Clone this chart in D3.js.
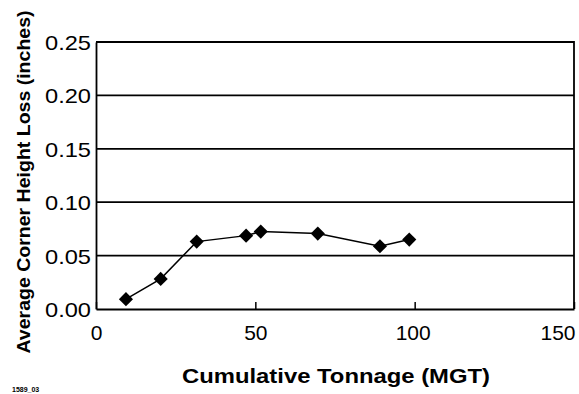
<!DOCTYPE html>
<html>
<head>
<meta charset="utf-8">
<script src="https://cdn.jsdelivr.net/npm/d3@7"></script>
<style>
body { margin: 0; background: #fff; }
svg { display: block; font-family: Arial, "Liberation Sans", sans-serif; }
</style>
</head>
<body>
<svg width="579" height="394"></svg>
<script>
// data
var tonnage = [9.4, 20.3, 31.6, 47.1, 51.7, 69.6, 89.1, 98.3];
var heightLoss = [0.0092, 0.0282, 0.0631, 0.0687, 0.0725, 0.0706, 0.0588, 0.065];
var xTicks = [0, 50, 100, 150];
var yTicks = [0, 0.05, 0.10, 0.15, 0.20, 0.25];

var points = tonnage.map((t, i) => ({x: t, y: heightLoss[i]}));

var graph = d3.select('svg');

//define scale
var xScale = d3.scaleLinear()
	.domain([0, 150])
	.range([96, 574]);

var yScale = d3.scaleLinear()
	.domain([0, 0.25])
	.range([309, 42]);

//gridlines
graph.append('g')
	.selectAll('line')
	.data(yTicks.slice(1))
	.enter().append('line')
	.attr('x1', xScale(0))
	.attr('x2', xScale(150))
	.attr('y1', d => yScale(d))
	.attr('y2', d => yScale(d))
	.attr('stroke', '#000')
	.attr('stroke-width', 1.8);

//right border
graph.append('line')
	.attr('x1', xScale(150)).attr('x2', xScale(150))
	.attr('y1', yScale(0.25) - 0.9).attr('y2', yScale(0))
	.attr('stroke', '#000').attr('stroke-width', 1.8);

//axes
var xAxis = d3.axisBottom(xScale)
	.tickValues(xTicks)
	.tickSize(-7)
	.tickSizeOuter(0)
	.tickPadding(16)
	.tickFormat(d3.format('d'));

var yAxis = d3.axisLeft(yScale)
	.tickValues(yTicks)
	.tickSize(0)
	.tickPadding(5)
	.tickFormat(d3.format('.2f'));

var gx = graph.append('g')
	.attr('transform', 'translate(0,' + yScale(0) + ')')
	.call(xAxis);

var gy = graph.append('g')
	.attr('transform', 'translate(' + xScale(0) + ',0)')
	.call(yAxis);

[gx, gy].forEach(a => {
	a.select('.domain').attr('stroke', '#000').attr('stroke-width', 1.8);
	a.selectAll('.tick line').attr('stroke', '#000').attr('stroke-width', 1.5);
	a.selectAll('text')
		.attr('fill', '#000')
		.style('font-size', '21px')
		.style('font-family', 'Arial, "Liberation Sans", sans-serif');
});
gy.selectAll('text')
	.attr('dy', '0.36em')
	.attr('textLength', 46)
	.attr('lengthAdjust', 'spacingAndGlyphs');

// keep the last x label inside the frame
gx.selectAll('.tick text')
	.filter(d => d === 150)
	.attr('text-anchor', 'end')
	.attr('x', 1);
gx.selectAll('.tick text')
	.filter(d => d === 100)
	.attr('x', -2);

//line + markers
var line = d3.line()
	.x(d => xScale(d.x))
	.y(d => yScale(d.y));

graph.append('path')
	.datum(points)
	.attr('d', line)
	.attr('fill', 'none')
	.attr('stroke', '#000')
	.attr('stroke-width', 1.5);

var diamond = d3.symbol().type(d3.symbolSquare).size(100);

graph.append('g')
	.selectAll('path')
	.data(points)
	.enter().append('path')
	.attr('d', diamond)
	.attr('transform', d => 'translate(' + xScale(d.x) + ',' + yScale(d.y) + ') rotate(45)')
	.attr('fill', '#000');

//titles
graph.append('text')
	.attr('x', 336)
	.attr('y', 383)
	.attr('text-anchor', 'middle')
	.attr('font-weight', 'bold')
	.attr('font-size', '21px')
	.attr('textLength', 308)
	.attr('lengthAdjust', 'spacingAndGlyphs')
	.text('Cumulative Tonnage (MGT)');

graph.append('text')
	.attr('transform', 'translate(30,182) rotate(-90)')
	.attr('text-anchor', 'middle')
	.attr('font-weight', 'bold')
	.attr('font-size', '19px')
	.attr('textLength', 343)
	.attr('lengthAdjust', 'spacingAndGlyphs')
	.text('Average Corner Height Loss (inches)');

graph.append('text')
	.attr('x', 12)
	.attr('y', 392)
	.attr('font-weight', 'bold')
	.attr('font-size', '7px')
	.text('1589_03');
</script>
</body>
</html>
